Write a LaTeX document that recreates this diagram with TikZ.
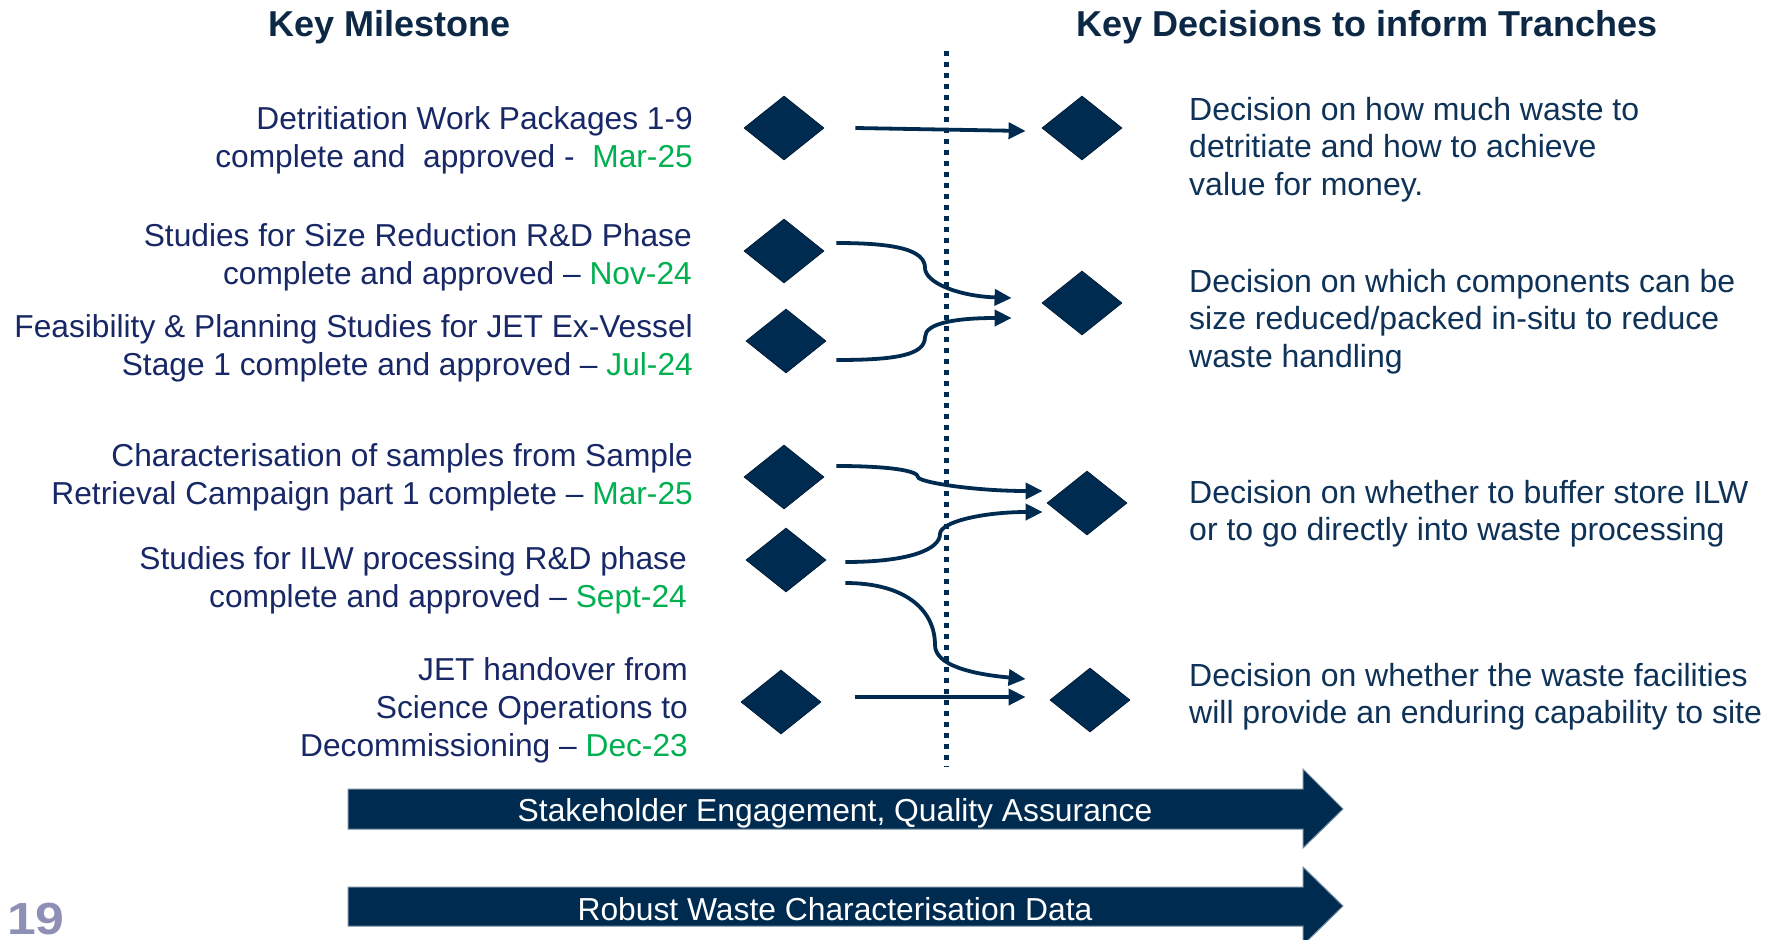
\documentclass[tikz,border=0pt]{standalone}
\usepackage{fontspec}
\usepackage{graphicx}
\setmainfont{Liberation Sans}
\usetikzlibrary{shapes.geometric,arrows.meta,calc}
\definecolor{navy}{RGB}{0,43,81}
\definecolor{ltext}{RGB}{24,40,102}
\definecolor{rtext}{RGB}{14,50,88}
\definecolor{hdr}{RGB}{12,40,68}
\definecolor{grn}{RGB}{0,176,80}
\definecolor{pgnum}{RGB}{142,143,181}
\tikzset{
  ms/.style={diamond, fill=navy, draw=navy!70!black, line width=0.8pt, minimum width=80pt, minimum height=64pt, inner sep=0pt},
  conn/.style={draw=navy, line width=3.8pt, -{Triangle[length=17pt,width=16pt]}},
  ltxt/.style={anchor=north east, align=right, inner sep=0pt, text=ltext, font=\fontsize{31.7}{38}\selectfont},
  rtxt/.style={anchor=north west, align=left, inner sep=0pt, text=rtext, font=\fontsize{32}{37.5}\selectfont},
  hd/.style={anchor=base, inner sep=0pt, text=hdr, font=\fontsize{36}{40}\selectfont\bfseries},
  band/.style={fill=navy, draw=navy!55!white, line width=1pt},
  bandtxt/.style={text=white, inner sep=0pt, font=\fontsize{31.8}{36}\selectfont},
  divider/.style={draw=navy, line width=5pt, dash pattern=on 5pt off 6pt}
}
\begin{document}
\begin{tikzpicture}[x=1pt,y=-1pt]
\clip (0,0) rectangle (1781,940);
\fill[white] (0,0) rectangle (1781,940);

% headings
\node[hd] (h1) at (390,36) {Key Milestone};
\node[hd] (h2) at (1367,36) {Key Decisions to inform Tranches};

% divider
\coordinate (dtop) at (946,51);
\coordinate (dbot) at (946,767);
\draw[divider] (dtop) -- (dbot);

% milestone diamonds
\node[ms] (D1) at (784,128) {};
\node[ms] (D2) at (784,251) {};
\node[ms] (D3) at (786,341) {};
\node[ms] (D4) at (784,477) {};
\node[ms] (D5) at (786,560) {};
\node[ms] (D6) at (781,702) {};
% decision diamonds
\node[ms] (R1) at (1082,128) {};
\node[ms] (R2) at (1082,303) {};
\node[ms] (R3) at (1087,503) {};
\node[ms] (R4) at (1090,700) {};

% left texts
\node[ltxt] (L1) at (693,106) {Detritiation Work Packages 1-9\\complete and\ \ approved -\ \ \textcolor{grn}{Mar-25}};
\node[ltxt] (L2) at (692,223) {Studies for Size Reduction R\&D Phase\\complete and approved – \textcolor{grn}{Nov-24}};
\node[ltxt] (L3) at (693,314) {Feasibility \& Planning Studies for JET Ex-Vessel\\Stage 1 complete and approved – \textcolor{grn}{Jul-24}};
\node[ltxt] (L4) at (693,443) {Characterisation of samples from Sample\\Retrieval Campaign part 1 complete – \textcolor{grn}{Mar-25}};
\node[ltxt] (L5) at (687,546) {Studies for ILW processing R\&D phase\\complete and approved – \textcolor{grn}{Sept-24}};
\node[ltxt] (L6) at (688,657) {JET handover from\\Science Operations to\\Decommissioning – \textcolor{grn}{Dec-23}};

% right texts
\node[rtxt] (T1) at (1189,97) {Decision on how much waste to\\detritiate and how to achieve\\value for money.};
\node[rtxt] (T2) at (1189,269) {Decision on which components can be\\size reduced/packed in-situ to reduce\\waste handling};
\node[rtxt] (T3) at (1189,480) {Decision on whether to buffer store ILW\\or to go directly into waste processing};
\node[rtxt] (T4) at (1189,663) {Decision on whether the waste facilities\\will provide an enduring capability to site};

% connector end points
\coordinate (a1s) at ($(D1.east)+(31,0)$);
\coordinate (a1e) at ($(R1.west)+(-16,3)$);
\coordinate (a2s) at ($(D2.east)+(12,-8)$);
\coordinate (a2m) at (925,268);
\coordinate (a2e) at ($(R2.west)+(-30,-5)$);
\coordinate (a3s) at ($(D3.east)+(10,19)$);
\coordinate (a3m) at (925,337);
\coordinate (a3e) at ($(R2.west)+(-30,15)$);
\coordinate (a4s) at ($(D4.east)+(12,-11)$);
\coordinate (a4m) at (918,477);
\coordinate (a4e) at ($(R3.west)+(-4,-12)$);
\coordinate (a5s) at ($(D5.east)+(19,2)$);
\coordinate (a5m) at (940,534);
\coordinate (a5e) at ($(R3.west)+(-4,9)$);
\coordinate (a6s) at ($(D5.east)+(19,23)$);
\coordinate (a6m) at (935,645);
\coordinate (a6e) at ($(R4.west)+(-24,-21)$);
\coordinate (a7s) at ($(D6.east)+(34,-5)$);
\coordinate (a7e) at ($(R4.west)+(-24,-3)$);

% connectors
\draw[conn] (a1s) -- (a1e);
\draw[conn] (a2s) .. controls ($(a2s)+(60,0)$) and ($(a2m)+(0,-18)$) .. (a2m)
                  .. controls ($(a2m)+(0,14)$) and ($(a2e)+(-55,-2)$) .. (a2e);
\draw[conn] (a3s) .. controls ($(a3s)+(60,0)$) and ($(a3m)+(0,18)$) .. (a3m)
                  .. controls ($(a3m)+(0,-14)$) and ($(a3e)+(-55,0)$) .. (a3e);
\draw[conn] (a4s) .. controls ($(a4s)+(55,0)$) and ($(a4m)+(0,-6)$) .. (a4m)
                  .. controls ($(a4m)+(0,5)$) and ($(a4e)+(-70,0)$) .. (a4e);
\draw[conn] (a5s) .. controls ($(a5s)+(65,0)$) and ($(a5m)+(0,15)$) .. (a5m)
                  .. controls ($(a5m)+(0,-12)$) and ($(a5e)+(-60,0)$) .. (a5e);
\draw[conn] (a6s) .. controls ($(a6s)+(60,0)$) and ($(a6m)+(0,-35)$) .. (a6m)
                  .. controls ($(a6m)+(0,20)$) and ($(a6e)+(-55,-5)$) .. (a6e);
\draw[conn] (a7s) -- (a7e);

% bottom bands
\draw[band] (348,789) -- (1303,789) -- (1303,769) -- (1343,809) -- (1303,848) -- (1303,829) -- (348,829) -- cycle;
\node[bandtxt] (B1) at (835,813) {Stakeholder Engagement, Quality Assurance};
\draw[band] (348,887) -- (1303,887) -- (1303,867) -- (1343,906) -- (1303,945) -- (1303,926) -- (348,926) -- cycle;
\node[bandtxt] (B2) at (835,909) {Robust Waste Characterisation Data};

% page number
\node[anchor=base west, inner sep=0pt, text=pgnum, font=\fontsize{45}{50}\selectfont\bfseries] (pg) at (7,934) {\scalebox{1.15}[1]{19}};
\end{tikzpicture}
\end{document}
